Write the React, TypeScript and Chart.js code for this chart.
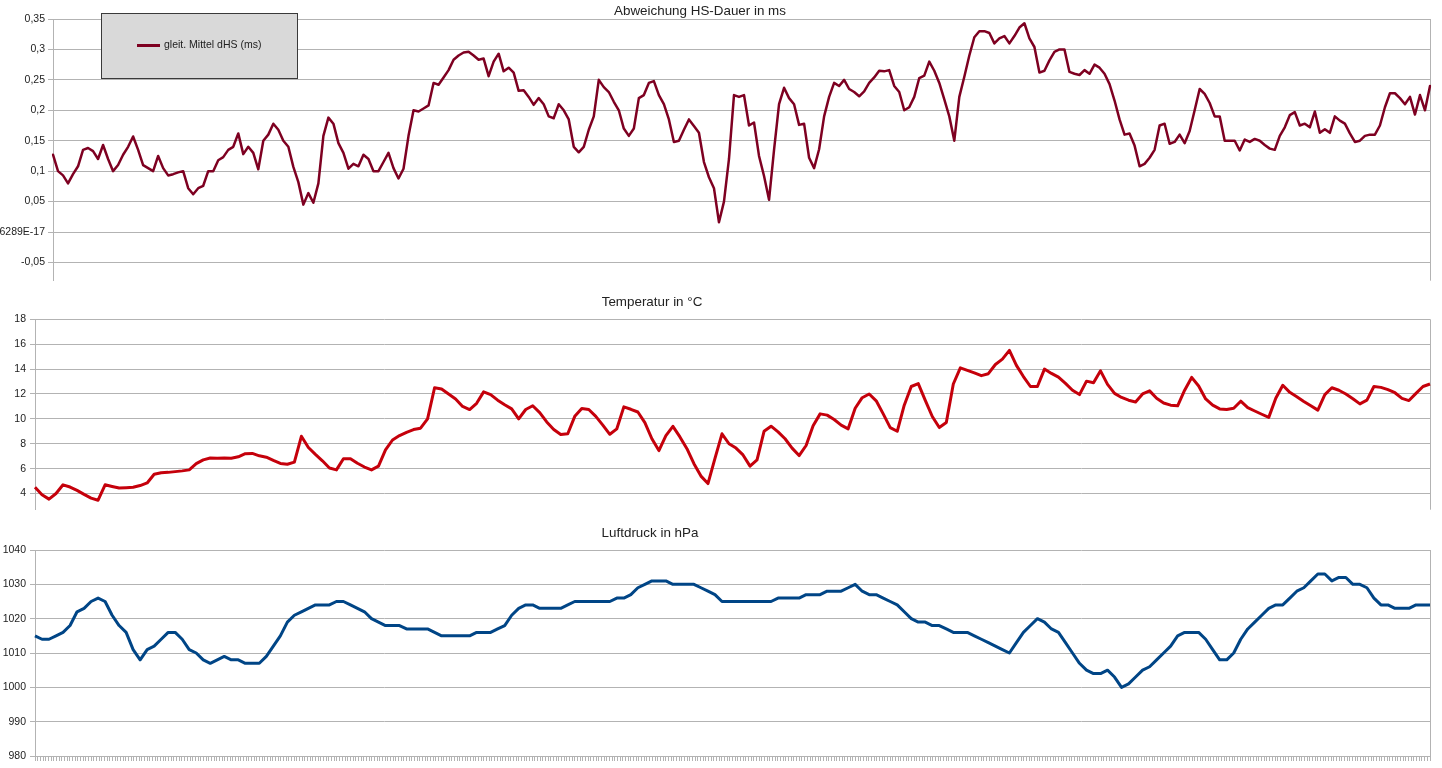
import React, { useEffect, useRef } from "react";
import { Chart, registerables } from "chart.js";

Chart.register(...registerables);

// ---------- data ----------
// number of hourly categories on the shared time axis (tick marks of the lowest panel)
const HOURS = 522;

const HS_LABEL = "gleit. Mittel dHS (ms)";
const HS_VALUES = [
  0.127, 0.1, 0.093, 0.08, 0.095, 0.108, 0.135, 0.138, 0.133, 0.12,
  0.143, 0.12, 0.1, 0.11, 0.127, 0.14, 0.157, 0.135, 0.11, 0.105,
  0.1, 0.125, 0.105, 0.093, 0.095, 0.098, 0.1, 0.072, 0.062, 0.072,
  0.076, 0.1, 0.1, 0.118, 0.123, 0.135, 0.14, 0.162, 0.128, 0.14,
  0.13, 0.103, 0.15, 0.16, 0.178, 0.168, 0.15, 0.14, 0.107, 0.082,
  0.045, 0.064, 0.048, 0.08, 0.158, 0.188, 0.178, 0.146, 0.13, 0.104,
  0.112, 0.108, 0.127, 0.12, 0.1, 0.1, 0.115, 0.13, 0.105, 0.088,
  0.104, 0.158, 0.2, 0.198, 0.203, 0.208, 0.245, 0.242, 0.254, 0.266,
  0.283, 0.29, 0.295, 0.296, 0.29, 0.283, 0.285, 0.256, 0.28, 0.293,
  0.264, 0.27, 0.262, 0.232, 0.233, 0.222, 0.209, 0.22, 0.21, 0.19,
  0.187, 0.21, 0.2, 0.185, 0.14, 0.131, 0.14, 0.168, 0.19, 0.25,
  0.238, 0.23, 0.214, 0.2, 0.17, 0.158, 0.17, 0.22, 0.225, 0.245,
  0.248, 0.225, 0.21, 0.185, 0.148, 0.15, 0.168, 0.185, 0.174, 0.163,
  0.115, 0.09, 0.072, 0.016, 0.05, 0.12, 0.225, 0.222, 0.225, 0.175,
  0.18, 0.125, 0.092, 0.053, 0.135, 0.21, 0.237, 0.22, 0.21, 0.176,
  0.178, 0.122, 0.105, 0.136, 0.19, 0.222, 0.245, 0.24, 0.25, 0.235,
  0.23, 0.223, 0.231, 0.245, 0.254, 0.265, 0.264, 0.266, 0.24, 0.23,
  0.2, 0.205, 0.222, 0.253, 0.257, 0.28, 0.265, 0.245, 0.218, 0.19,
  0.15, 0.222, 0.255, 0.29, 0.32, 0.33, 0.33, 0.327, 0.31, 0.318,
  0.322, 0.31, 0.322, 0.336, 0.343, 0.318, 0.304, 0.262, 0.265, 0.282,
  0.296, 0.3, 0.3, 0.263, 0.26, 0.258, 0.266, 0.26, 0.275, 0.27,
  0.26, 0.243, 0.216, 0.185, 0.16, 0.162, 0.142, 0.108, 0.112, 0.122,
  0.135, 0.175, 0.178, 0.145, 0.148, 0.16, 0.146, 0.166, 0.2, 0.235,
  0.227, 0.212, 0.19, 0.19, 0.15, 0.15, 0.15, 0.134, 0.152, 0.148,
  0.153, 0.15, 0.143, 0.137, 0.135, 0.158, 0.172, 0.192, 0.197, 0.175,
  0.178, 0.172, 0.198, 0.163, 0.169, 0.163, 0.19, 0.183, 0.178, 0.162,
  0.148, 0.15, 0.158, 0.16, 0.16, 0.175, 0.205, 0.228, 0.228, 0.22,
  0.21, 0.222, 0.193, 0.225, 0.2, 0.24,
];
const HS_TICKS = [-0.05, 0, 0.05, 0.1, 0.15, 0.2, 0.25, 0.3, 0.35];
const HS_TICK_LABELS = ["-0,05", "-2,77555756156289E-17", "0,05", "0,1", "0,15", "0,2", "0,25", "0,3", "0,35"];
const HS_MIN = -0.08;
const HS_MAX = 0.35;

const TEMP_VALUES = [
  4.5, 3.9, 3.55, 4.0, 4.7, 4.52, 4.25, 3.93, 3.63, 3.46,
  4.7, 4.57, 4.45, 4.47, 4.5, 4.64, 4.85, 5.55, 5.67, 5.7,
  5.76, 5.82, 5.9, 6.4, 6.7, 6.85, 6.84, 6.86, 6.83, 6.95,
  7.2, 7.22, 7.03, 6.92, 6.66, 6.42, 6.35, 6.52, 8.6, 7.7,
  7.15, 6.63, 6.05, 5.9, 6.8, 6.8, 6.43, 6.13, 5.9, 6.2,
  7.5, 8.3, 8.66, 8.92, 9.14, 9.25, 10.0, 12.5, 12.4, 12.0,
  11.6, 11.0, 10.75, 11.25, 12.17, 11.95, 11.5, 11.13, 10.8, 10.0,
  10.75, 11.05, 10.5, 9.75, 9.15, 8.74, 8.8, 10.2, 10.83, 10.75,
  10.2, 9.5, 8.76, 9.2, 10.96, 10.77, 10.55, 9.7, 8.4, 7.45,
  8.65, 9.4, 8.55, 7.6, 6.4, 5.4, 4.8, 6.82, 8.8, 8.0,
  7.65, 7.1, 6.2, 6.7, 9.0, 9.41, 8.95, 8.4, 7.65, 7.05,
  7.86, 9.45, 10.4, 10.3, 9.95, 9.5, 9.2, 10.85, 11.7, 12.0,
  11.45, 10.4, 9.3, 9.0, 11.1, 12.6, 12.83, 11.48, 10.19, 9.3,
  9.7, 12.8, 14.1, 13.9, 13.7, 13.47, 13.63, 14.37, 14.8, 15.5,
  14.3, 13.4, 12.6, 12.6, 14.0, 13.65, 13.35, 12.85, 12.3, 11.95,
  13.03, 12.9, 13.86, 12.77, 12.05, 11.72, 11.5, 11.35, 12.0, 12.25,
  11.65, 11.27, 11.1, 11.05, 12.3, 13.33, 12.64, 11.6, 11.1, 10.8,
  10.75, 10.85, 11.42, 10.9, 10.63, 10.37, 10.12, 11.65, 12.7, 12.13,
  11.78, 11.4, 11.05, 10.7, 11.95, 12.5, 12.3, 12.0, 11.62, 11.2,
  11.5, 12.6, 12.53, 12.35, 12.1, 11.65, 11.47, 12.05, 12.6, 12.8,
];
const TEMP_TICKS = [4, 6, 8, 10, 12, 14, 16, 18];
const TEMP_MIN = 2.7;
const TEMP_MAX = 18;

const PRESS_VALUES = [
  1015, 1014, 1014, 1015, 1016, 1018, 1022, 1023, 1025, 1026,
  1025, 1021, 1018, 1016, 1011, 1008, 1011, 1012, 1014, 1016,
  1016, 1014, 1011, 1010, 1008, 1007, 1008, 1009, 1008, 1008,
  1007, 1007, 1007, 1009, 1012, 1015, 1019, 1021, 1022, 1023,
  1024, 1024, 1024, 1025, 1025, 1024, 1023, 1022, 1020, 1019,
  1018, 1018, 1018, 1017, 1017, 1017, 1017, 1016, 1015, 1015,
  1015, 1015, 1015, 1016, 1016, 1016, 1017, 1018, 1021, 1023,
  1024, 1024, 1023, 1023, 1023, 1023, 1024, 1025, 1025, 1025,
  1025, 1025, 1025, 1026, 1026, 1027, 1029, 1030, 1031, 1031,
  1031, 1030, 1030, 1030, 1030, 1029, 1028, 1027, 1025, 1025,
  1025, 1025, 1025, 1025, 1025, 1025, 1026, 1026, 1026, 1026,
  1027, 1027, 1027, 1028, 1028, 1028, 1029, 1030, 1028, 1027,
  1027, 1026, 1025, 1024, 1022, 1020, 1019, 1019, 1018, 1018,
  1017, 1016, 1016, 1016, 1015, 1014, 1013, 1012, 1011, 1010,
  1013, 1016, 1018, 1020, 1019, 1017, 1016, 1013, 1010, 1007,
  1005, 1004, 1004, 1005, 1003, 1000, 1001, 1003, 1005, 1006,
  1008, 1010, 1012, 1015, 1016, 1016, 1016, 1014, 1011, 1008,
  1008, 1010, 1014, 1017, 1019, 1021, 1023, 1024, 1024, 1026,
  1028, 1029, 1031, 1033, 1033, 1031, 1032, 1032, 1030, 1030,
  1029, 1026, 1024, 1024, 1023, 1023, 1023, 1024, 1024, 1024,
];
const PRESS_TICKS = [980, 990, 1000, 1010, 1020, 1030, 1040];
const PRESS_MIN = 980;
const PRESS_MAX = 1040;

// ---------- styles ----------
const FONT = '"Liberation Sans", Arial, Helvetica, sans-serif';
const GRID = "#b3b3b3";
const TEXT = "#222222";
const TICK_FONT = { family: FONT, size: 10.5 };

// ---------- plugins ----------
const panelTitle = {
  id: "panelTitle",
  afterDraw(chart: any, _a: any, o: any) {
    const ctx = chart.ctx;
    ctx.save();
    ctx.font = `${o.size}px ${FONT}`;
    ctx.fillStyle = TEXT;
    ctx.textAlign = "center";
    ctx.textBaseline = "alphabetic";
    ctx.fillText(o.text, o.x, o.y);
    ctx.restore();
  },
};

const rightBorder = {
  id: "rightBorder",
  beforeDatasetsDraw(chart: any) {
    const { ctx, chartArea } = chart;
    const x = Math.round(chartArea.right) + 0.5;
    ctx.save();
    ctx.strokeStyle = GRID;
    ctx.lineWidth = 1;
    ctx.beginPath();
    ctx.moveTo(x, chartArea.top);
    ctx.lineTo(x, chartArea.bottom);
    ctx.stroke();
    ctx.restore();
  },
};

const boxLegend = {
  id: "boxLegend",
  afterDraw(chart: any, _a: any, o: any) {
    if (!o || !o.show) return;
    const ctx = chart.ctx;
    const ds = chart.data.datasets[0];
    ctx.save();
    ctx.fillStyle = "#d9d9d9";
    ctx.fillRect(o.left, o.top, o.width, o.height);
    ctx.strokeStyle = "#3a3a3a";
    ctx.lineWidth = 1;
    ctx.strokeRect(o.left + 0.5, o.top + 0.5, o.width, o.height);
    const cy = o.top + o.height / 2;
    ctx.strokeStyle = ds.borderColor;
    ctx.lineWidth = 3;
    ctx.beginPath();
    ctx.moveTo(o.left + 36, cy);
    ctx.lineTo(o.left + 59, cy);
    ctx.stroke();
    ctx.fillStyle = TEXT;
    ctx.font = `10.5px ${FONT}`;
    ctx.textAlign = "left";
    ctx.textBaseline = "middle";
    ctx.fillText(ds.label, o.left + 63, cy);
    ctx.restore();
  },
};

function yScale(min: number, max: number, ticks: number[], labels: string[] | null, width: number, pad: number) {
  return {
    type: "linear",
    position: "left",
    min,
    max,
    afterBuildTicks: (s: any) => {
      s.ticks = ticks.map((v) => ({ value: v }));
    },
    afterFit: (s: any) => {
      s.width = width;
    },
    ticks: {
      font: TICK_FONT,
      color: TEXT,
      padding: pad,
      callback: (v: any, i: number) => (labels ? labels[i] : String(v)),
    },
    grid: { color: GRID, lineWidth: 1, tickLength: 5, tickColor: GRID },
    border: { display: true, color: GRID, width: 1 },
  };
}

function baseOptions(padding: any, title: any, legend: any) {
  return {
    responsive: false,
    animation: false,
    events: [],
    layout: { padding },
    plugins: {
      legend: { display: false },
      tooltip: { enabled: false },
      title: { display: false },
      panelTitle: title,
      boxLegend: legend,
    },
  };
}

function hsConfig(): any {
  return {
    type: "line",
    data: {
      labels: HS_VALUES.map((_, i) => String(i)),
      datasets: [
        {
          label: HS_LABEL,
          data: HS_VALUES,
          borderColor: "#7e0021",
          borderWidth: 2.5,
          pointRadius: 0,
          tension: 0,
          fill: false,
          borderJoinStyle: "round",
          borderCapStyle: "round",
        },
      ],
    },
    options: {
      ...baseOptions(
        { top: 19, right: 12, bottom: 5, left: 0 },
        { text: "Abweichung HS-Dauer in ms", x: 700, y: 15, size: 13.4 },
        { show: true, left: 101, top: 13, width: 196, height: 65 }
      ),
      scales: {
        x: { type: "category", display: false, offset: false },
        y: yScale(HS_MIN, HS_MAX, HS_TICKS, HS_TICK_LABELS, 53, 3),
      },
    },
    plugins: [rightBorder, panelTitle, boxLegend],
  };
}

function tempConfig(): any {
  return {
    type: "line",
    data: {
      labels: TEMP_VALUES.map((_, i) => String(i)),
      datasets: [
        {
          label: "Temperatur",
          data: TEMP_VALUES,
          borderColor: "#c5000b",
          borderWidth: 3,
          pointRadius: 0,
          tension: 0,
          fill: false,
          borderJoinStyle: "round",
        },
      ],
    },
    options: {
      ...baseOptions(
        { top: 29.3, right: 12, bottom: 4, left: 0 },
        { text: "Temperatur in °C", x: 652, y: 16, size: 13.4 },
        { show: false }
      ),
      scales: {
        x: { type: "category", display: false, offset: false },
        y: yScale(TEMP_MIN, TEMP_MAX, TEMP_TICKS, null, 35, 4),
      },
    },
    plugins: [rightBorder, panelTitle, boxLegend],
  };
}

function pressConfig(): any {
  return {
    type: "line",
    data: {
      labels: PRESS_VALUES.map((_, i) => String(i)),
      datasets: [
        {
          label: "Luftdruck",
          data: PRESS_VALUES,
          borderColor: "#004586",
          borderWidth: 3,
          pointRadius: 0,
          tension: 0,
          fill: false,
          borderJoinStyle: "round",
        },
      ],
    },
    options: {
      ...baseOptions(
        { top: 30, right: 12, bottom: 7, left: 0 },
        { text: "Luftdruck in hPa", x: 650, y: 17, size: 13.4 },
        { show: false }
      ),
      scales: {
        x: { type: "category", display: false, offset: false },
        xt: {
          type: "linear",
          position: "bottom",
          min: 0,
          max: HOURS,
          ticks: { display: false, stepSize: 1 },
          grid: { drawOnChartArea: false, drawTicks: true, tickLength: 5, color: GRID, tickColor: GRID },
          border: { display: true, color: GRID, width: 1 },
        },
        y: yScale(PRESS_MIN, PRESS_MAX, PRESS_TICKS, null, 35, 4),
      },
    },
    plugins: [rightBorder, panelTitle, boxLegend],
  };
}

function Panel({ make, top, height }: { make: () => any; top: number; height: number }) {
  const ref = useRef<HTMLCanvasElement | null>(null);
  useEffect(() => {
    if (!ref.current) return;
    const chart = new Chart(ref.current, make());
    return () => chart.destroy();
  }, []);
  return (
    <canvas
      ref={ref}
      width={1442}
      height={height}
      style={{ position: "absolute", left: 0, top, width: 1442, height, display: "block" }}
    />
  );
}

export default function App() {
  return (
    <div
      style={{
        position: "absolute",
        left: 0,
        top: 0,
        width: 1442,
        height: 768,
        background: "#ffffff",
        overflow: "hidden",
      }}
    >
      <Panel make={hsConfig} top={0} height={290} />
      <Panel make={tempConfig} top={290} height={230} />
      <Panel make={pressConfig} top={520} height={248} />
    </div>
  );
}
